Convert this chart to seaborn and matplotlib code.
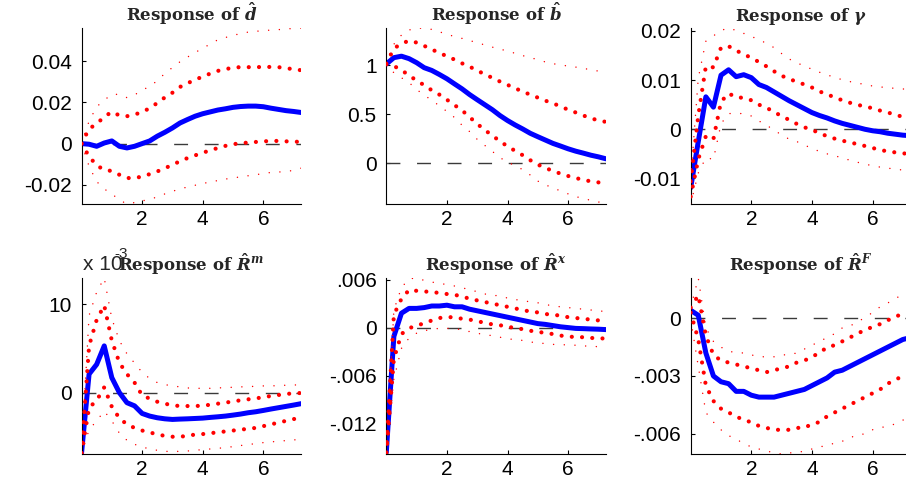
import numpy as np
import pandas as pd
import matplotlib
matplotlib.use("Agg")
import matplotlib.pyplot as plt
import seaborn as sns

# ---------------- data ----------------
horizon = [0.0, 0.25, 0.5, 0.75, 1.0, 1.25, 1.5, 1.75, 2.0, 2.25, 2.5, 2.75, 3.0, 3.25, 3.5,
           3.75, 4.0, 4.25, 4.5, 4.75, 5.0, 5.25, 5.5, 5.75, 6.0, 6.25, 6.5, 6.75, 7.0, 7.25]

titles = [r"Response of $\hat{d}$", r"Response of $\hat{b}$",
          r"Response of $\gamma$", r"Response of $\hat{R}^{m}$",
          r"Response of $\hat{R}^{x}$", r"Response of $\hat{R}^{F}$"]

# panel 1: d
d_mid = [0, -0.0003, -0.0013, 0.0003, 0.0013, -0.0013, -0.0021, -0.0013, 0.0, 0.0013, 0.0036, 0.0055,
         0.0076, 0.0100, 0.0117, 0.0133, 0.0145, 0.0154, 0.0163, 0.0169, 0.0176, 0.0180, 0.0182, 0.0182,
         0.0179, 0.0172, 0.0166, 0.0160, 0.0156, 0.0151]
d_in_hi = [0, 0.0072, 0.0096, 0.0130, 0.0154, 0.0137, 0.0133, 0.0141, 0.0153, 0.0172, 0.0197, 0.0224,
           0.0247, 0.0275, 0.0293, 0.0310, 0.0325, 0.0340, 0.0353, 0.0361, 0.0369, 0.0371, 0.0371, 0.0371,
           0.0372, 0.0372, 0.0371, 0.0366, 0.0361, 0.0356]
d_in_lo = [0, -0.0062, -0.0106, -0.0127, -0.0133, -0.0151, -0.0167, -0.0167, -0.0160, -0.0148, -0.0135,
           -0.0120, -0.0102, -0.0086, -0.0070, -0.0057, -0.0044, -0.0033, -0.0021, -0.0011, -0.0003, 0.0002,
           0.0005, 0.0008, 0.0011, 0.0013, 0.0013, 0.0011, 0.0010, 0.0008]
d_out_hi = [0, 0.0109, 0.0179, 0.0211, 0.0239, 0.0239, 0.0223, 0.0237, 0.0257, 0.0280, 0.0304, 0.0341,
            0.0369, 0.0397, 0.0420, 0.0442, 0.0463, 0.0483, 0.0504, 0.0515, 0.0524, 0.0535, 0.0541, 0.0545,
            0.0548, 0.0551, 0.0553, 0.0556, 0.0559, 0.0561]
d_out_lo = [0, -0.0110, -0.0184, -0.0220, -0.0244, -0.0273, -0.0293, -0.0286, -0.0278, -0.0270, -0.0259,
            -0.0244, -0.0231, -0.0221, -0.0210, -0.0202, -0.0193, -0.0187, -0.0179, -0.0172, -0.0167,
            -0.0161, -0.0156, -0.0151, -0.0145, -0.0140, -0.0138, -0.0135, -0.0130, -0.0119]

# panel 2: b
b_mid = [1.01, 1.075, 1.09, 1.065, 1.024, 0.973, 0.945, 0.904, 0.86, 0.808, 0.757, 0.699, 0.647, 0.596,
         0.545, 0.486, 0.435, 0.39, 0.349, 0.305, 0.27, 0.236, 0.202, 0.175, 0.147, 0.123, 0.103, 0.082,
         0.065, 0.045]
b_in_hi = [1.014, 1.168, 1.219, 1.247, 1.229, 1.195, 1.161, 1.12, 1.092, 1.055, 1.017, 0.983, 0.945, 0.904,
           0.87, 0.832, 0.798, 0.764, 0.729, 0.699, 0.668, 0.637, 0.61, 0.579, 0.545, 0.517, 0.486, 0.459,
           0.435, 0.421]
b_in_lo = [1.007, 0.99, 0.949, 0.894, 0.842, 0.795, 0.743, 0.699, 0.647, 0.592, 0.538, 0.47, 0.40, 0.34,
           0.28, 0.226, 0.171, 0.127, 0.082, 0.031, -0.014, -0.048, -0.079, -0.106, -0.13, -0.151, -0.168,
           -0.185, -0.195, -0.202]
b_out_hi = [1.014, 1.212, 1.305, 1.356, 1.377, 1.373, 1.363, 1.339, 1.312, 1.291, 1.271, 1.25, 1.226, 1.205,
            1.182, 1.164, 1.14, 1.12, 1.096, 1.075, 1.055, 1.031, 1.014, 1.0, 0.99, 0.979, 0.966, 0.952,
            0.938, 0.928]
b_out_lo = [1.007, 0.921, 0.87, 0.822, 0.75, 0.695, 0.64, 0.586, 0.527, 0.466, 0.387, 0.322, 0.243, 0.182,
            0.12, 0.058, 0.01, -0.024, -0.065, -0.12, -0.182, -0.219, -0.253, -0.281, -0.312, -0.339, -0.36,
            -0.377, -0.394, -0.415]

# panel 3: gamma
g_mid = [-0.0119, -0.0025, 0.0066, 0.0045, 0.0110, 0.0121, 0.0107, 0.0111, 0.0105, 0.0091, 0.0085, 0.0076,
         0.0067, 0.0058, 0.0050, 0.0042, 0.0034, 0.0028, 0.0023, 0.0017, 0.0012, 0.0008, 0.0004, 0.0000,
         -0.0003, -0.0005, -0.0008, -0.0010, -0.0012, -0.0013]
g_in_hi = [-0.0106, 0.0028, 0.0128, 0.0126, 0.0166, 0.0169, 0.0160, 0.0153, 0.0145, 0.0137, 0.0128, 0.0118,
           0.0109, 0.0102, 0.0097, 0.0091, 0.0085, 0.0077, 0.0071, 0.0065, 0.0059, 0.0054, 0.0050, 0.0046,
           0.0043, 0.0038, 0.0034, 0.0030, 0.0025, 0.0023]
g_in_lo = [-0.0137, -0.0061, -0.0014, -0.0020, 0.0056, 0.0073, 0.0065, 0.0064, 0.0059, 0.0050, 0.0044,
           0.0035, 0.0027, 0.0019, 0.0011, 0.0004, -0.0001, -0.0008, -0.0014, -0.0019, -0.0023, -0.0027,
           -0.0030, -0.0034, -0.0038, -0.0042, -0.0045, -0.0047, -0.0049, -0.0050]
g_out_hi = [-0.0102, 0.0104, 0.0179, 0.0190, 0.0201, 0.0206, 0.0201, 0.0195, 0.0189, 0.0182, 0.0175, 0.0166,
            0.0154, 0.0143, 0.0135, 0.0129, 0.0122, 0.0116, 0.0111, 0.0105, 0.0101, 0.0097, 0.0094, 0.0091,
            0.0088, 0.0086, 0.0085, 0.0083, 0.0082, 0.0081]
g_out_lo = [-0.0152, -0.0089, -0.0058, -0.0061, 0.0011, 0.0032, 0.0032, 0.0032, 0.0027, 0.0017, 0.0008,
            -0.0001, -0.0012, -0.0020, -0.0025, -0.0032, -0.0039, -0.0045, -0.0050, -0.0054, -0.0058,
            -0.0063, -0.0067, -0.0071, -0.0074, -0.0077, -0.0079, -0.0081, -0.0083, -0.0085]

# panel 4: R^m  (in units of 1e-3)
rm_mid = [-6.9, 2.1, 3.2, 5.3, 1.7, 0.0, -1.14, -1.5, -2.36, -2.66, -2.85, -2.97, -3.04, -3.0, -2.97,
          -2.93, -2.89, -2.81, -2.74, -2.66, -2.55, -2.43, -2.28, -2.17, -2.02, -1.86, -1.71, -1.56, -1.41,
          -1.25]
rm_in_hi = [-6.84, 5.3, 8.25, 9.9, 5.9, 3.4, 2.1, 1.14, -0.3, -0.68, -1.03, -1.25, -1.44, -1.52, -1.52,
            -1.52, -1.48, -1.37, -1.25, -1.14, -0.99, -0.87, -0.76, -0.65, -0.53, -0.38, -0.27, -0.15,
            -0.08, -0.04]
rm_in_lo = [-6.9, -1.7, -0.9, 0.6, -1.6, -2.9, -3.6, -4.0, -4.3, -4.5, -4.75, -4.9, -5.0, -5.0, -4.9,
            -4.75, -4.7, -4.6, -4.5, -4.4, -4.3, -4.2, -4.1, -4.0, -3.8, -3.6, -3.4, -3.2, -3.0, -2.85]
rm_out_hi = [-6.84, 8.75, 11.4, 13.0, 8.4, 5.9, 4.4, 3.35, 2.3, 1.6, 1.14, 0.91, 0.76, 0.65, 0.53, 0.49,
             0.49, 0.49, 0.53, 0.57, 0.61, 0.65, 0.68, 0.72, 0.76, 0.76, 0.8, 0.84, 0.87, 0.87]
rm_out_lo = [-6.96, -4.2, -3.2, -2.1, -3.2, -4.6, -5.4, -5.86, -6.16, -6.39, -6.54, -6.65, -6.69, -6.65,
             -6.62, -6.54, -6.46, -6.39, -6.31, -6.24, -6.12, -6.0, -5.89, -5.78, -5.67, -5.59, -5.51,
             -5.44, -5.36, -5.32]

# panel 5: R^x
rx_mid = [-0.0156, -0.0011, 0.0018, 0.0024, 0.0024, 0.0025, 0.0027, 0.0027, 0.0028, 0.0026, 0.0026,
          0.0023, 0.0021, 0.0019, 0.0017, 0.0015, 0.0013, 0.0011, 0.0009, 0.0007, 0.0005, 0.0004, 0.00025,
          0.0001, 0.0, -0.0001, -0.00013, -0.00017, -0.0002, -0.00025]
rx_in_hi = [-0.0156, 0.0016, 0.0036, 0.0047, 0.0046, 0.0045, 0.0045, 0.0043, 0.0042, 0.0041, 0.0039,
            0.0036, 0.0034, 0.0032, 0.0030, 0.0028, 0.0026, 0.0024, 0.0022, 0.0020, 0.0019, 0.0017, 0.0016,
            0.0015, 0.0013, 0.0012, 0.0011, 0.0010, 0.0009, 0.0008]
rx_in_lo = [-0.0158, -0.0039, -0.0008, -0.0001, 0.0003, 0.0005, 0.0009, 0.0012, 0.0013, 0.0013, 0.0011,
            0.0010, 0.0008, 0.0006, 0.0004, 0.0003, 0.0001, -0.00004, -0.0002, -0.0004, -0.0005, -0.0007,
            -0.0008, -0.0010, -0.0011, -0.0012, -0.0012, -0.0013, -0.0013, -0.0014]
rx_out_hi = [-0.0157, 0.0022, 0.0050, 0.0061, 0.0062, 0.0059, 0.0057, 0.0055, 0.0054, 0.0052, 0.0050,
             0.0047, 0.0045, 0.0042, 0.0041, 0.0039, 0.0037, 0.0035, 0.0034, 0.0032, 0.0031, 0.0029, 0.0027,
             0.0026, 0.0025, 0.0024, 0.0023, 0.0022, 0.0021, 0.0020]
rx_out_lo = [-0.0158, -0.0064, -0.0026, -0.0013, -0.0007, -0.0004, -0.0002, -0.0001, -0.0001, -0.0001,
             -0.0003, -0.0005, -0.0007, -0.0009, -0.0010, -0.0012, -0.0014, -0.0015, -0.0016, -0.0018,
             -0.0019, -0.0020, -0.0021, -0.0021, -0.0022, -0.0022, -0.0023, -0.0023, -0.0024, -0.0024]

# panel 6: R^F
rf_mid = [0.00042, 0.00016, -0.0018, -0.0030, -0.0033, -0.0034, -0.0038, -0.0038, -0.0040, -0.0041,
          -0.0041, -0.0041, -0.0040, -0.0039, -0.0038, -0.0037, -0.0035, -0.0033, -0.0031, -0.0028,
          -0.0027, -0.0025, -0.0023, -0.0021, -0.0019, -0.0017, -0.0015, -0.0013, -0.0011, -0.0010]
rf_in_hi = [0.00056, 0.0012, -0.0009, -0.0019, -0.0022, -0.0023, -0.0024, -0.0025, -0.0026, -0.0027,
            -0.0028, -0.0027, -0.0026, -0.0025, -0.0023, -0.0022, -0.0020, -0.0018, -0.0015, -0.0014,
            -0.0012, -0.0010, -0.0008, -0.0006, -0.00045, -0.0003, -0.0001, 0.00007, 0.00026, 0.0004]
rf_in_lo = [0.0003, -0.0011, -0.0035, -0.0043, -0.0047, -0.0049, -0.0051, -0.0053, -0.0054, -0.0056,
            -0.0057, -0.0058, -0.0058, -0.0058, -0.0057, -0.0057, -0.0055, -0.0054, -0.0051, -0.0049,
            -0.0047, -0.0045, -0.0043, -0.0041, -0.0039, -0.0037, -0.0034, -0.0032, -0.0030, -0.0029]
rf_out_hi = [0.00056, 0.0021, -0.0005, -0.0012, -0.0015, -0.0017, -0.0018, -0.0018, -0.0019, -0.0020,
             -0.0020, -0.0020, -0.0019, -0.0019, -0.0018, -0.0016, -0.0014, -0.0012, -0.0010, -0.0008,
             -0.0005, -0.0004, -0.0002, 0.00005, 0.0003, 0.0006, 0.0008, 0.0010, 0.0013, 0.0014]
rf_out_lo = [-0.00005, -0.0025, -0.0049, -0.0054, -0.0058, -0.0061, -0.0063, -0.0065, -0.0067, -0.0068,
             -0.0069, -0.0070, -0.00706, -0.0070, -0.0070, -0.0069, -0.0068, -0.0067, -0.0066, -0.0065,
             -0.0064, -0.0062, -0.0061, -0.0060, -0.0058, -0.0057, -0.0056, -0.0055, -0.0053, -0.0051]

yticks = [[-0.02, 0, 0.02, 0.04], [0, 0.5, 1], [-0.01, 0, 0.01, 0.02],
          [0, 10], [-0.012, -0.006, 0, 0.006], [-0.006, -0.003, 0]]
yticklabels = [["-0.02", "0", "0.02", "0.04"], ["0", "0.5", "1"], ["-0.01", "0", "0.01", "0.02"],
               ["0", "10"], ["-.012", "-.006", "0", ".006"], ["-.006", "-.003", "0"]]
xticks = [2, 4, 6]
xticklabels = ["2", "4", "6"]

panels = [
    (d_mid, d_in_hi, d_in_lo, d_out_hi, d_out_lo),
    (b_mid, b_in_hi, b_in_lo, b_out_hi, b_out_lo),
    (g_mid, g_in_hi, g_in_lo, g_out_hi, g_out_lo),
    (rm_mid, rm_in_hi, rm_in_lo, rm_out_hi, rm_out_lo),
    (rx_mid, rx_in_hi, rx_in_lo, rx_out_hi, rx_out_lo),
    (rf_mid, rf_in_hi, rf_in_lo, rf_out_hi, rf_out_lo),
]

# ---------------- styling ----------------
sns.set_style("white")
plt.rcParams["font.family"] = ["Liberation Sans", "DejaVu Sans"]
plt.rcParams["mathtext.fontset"] = "custom"
plt.rcParams["mathtext.rm"] = "DejaVu Serif:bold"
plt.rcParams["mathtext.it"] = "DejaVu Serif:italic:bold"
plt.rcParams["mathtext.bf"] = "DejaVu Serif:bold"

W, H = 906, 484
fig = plt.figure(figsize=(W / 100, H / 100), dpi=100)
fig.patch.set_facecolor("white")

lefts = [81.5, 386.3, 690.7]
aw = 219.7
rows = [(28, 204), (278, 454)]

for i, (mid, ihi, ilo, ohi, olo) in enumerate(panels):
    r, c = divmod(i, 3)
    top, bot = rows[r]
    ax = fig.add_axes([lefts[c] / W, (H - bot) / H, aw / W, (bot - top) / H])
    ax.axhline(0, color="#3a3a3a", lw=1.0, ls=(0, (10, 12)), zorder=1)
    sns.lineplot(x=horizon, y=mid, ax=ax, color="#0000ff", lw=3.6, zorder=2)
    for s in (ohi, olo):
        sns.lineplot(x=horizon, y=s, ax=ax, color="#ff0000", lw=1.1,
                     linestyle=(0, (0.01, 7)), dash_capstyle="round", zorder=3)
    for s in (ihi, ilo):
        sns.lineplot(x=horizon, y=s, ax=ax, color="#ff0000", lw=3.0,
                     linestyle=(0, (0.01, 2.45)), dash_capstyle="round", zorder=4)
    allv = np.concatenate([mid, ihi, ilo, ohi, olo])
    ax.set_xlim(0, 7.25)
    ax.set_ylim(allv.min(), allv.max())
    ax.set_xticks(xticks)
    ax.set_xticklabels(xticklabels)
    ax.set_yticks(yticks[i])
    ax.set_yticklabels(yticklabels[i])
    ax.set_xlabel("")
    ax.set_ylabel("")
    for sp in ("top", "right"):
        ax.spines[sp].set_visible(False)
    for sp in ("left", "bottom"):
        ax.spines[sp].set_color("black")
        ax.spines[sp].set_linewidth(0.8)
    ax.tick_params(axis="both", direction="in", length=3, width=0.8, colors="black",
                   labelsize=15, left=True, bottom=True)
    ax.tick_params(axis="y", pad=7)
    ax.tick_params(axis="x", pad=4)
    ax.set_title(titles[i], fontsize=12, pad=5,
                 fontdict={"family": "DejaVu Serif", "weight": "bold"})
    ax.patch.set_alpha(0)

# exponent label of the R^m panel
fig.text(83 / W, 1 - 270 / H, "x 10", fontsize=15, ha="left", va="baseline")
fig.text(114 / W, 1 - 258 / H, "-3", fontsize=11, ha="left", va="baseline")

fig.savefig("out.png", dpi=100, facecolor="white")
